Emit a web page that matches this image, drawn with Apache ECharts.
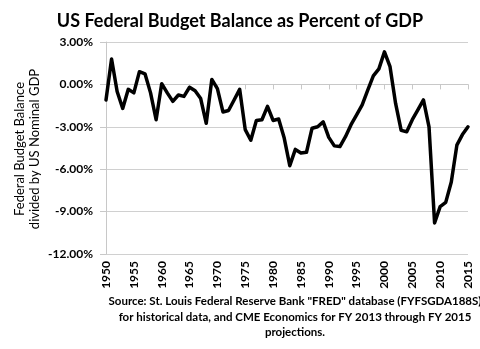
<!DOCTYPE html>
<html>
<head>
<meta charset="utf-8">
<script src="https://cdn.jsdelivr.net/npm/echarts@6/dist/echarts.min.js"></script>
<style>html,body{margin:0;padding:0;background:#fff;}#c{width:480px;height:349px;}</style>
</head>
<body>
<div id="c"></div>
<script>
var years = [];
for (var y = 1950; y <= 2015; y++) years.push(String(y));
var balance = [
  -1.1, 1.8, -0.5, -1.7, -0.35, -0.6, 0.9, 0.75, -0.6, -2.5,
  0.05, -0.6, -1.2, -0.75, -0.85, -0.2, -0.45, -1.0, -2.75, 0.35,
  -0.3, -1.95, -1.85, -1.1, -0.35, -3.2, -3.95, -2.55, -2.5, -1.55,
  -2.55, -2.45, -3.8, -5.75, -4.6, -4.85, -4.8, -3.1, -3.0, -2.65,
  -3.75, -4.35, -4.4, -3.7, -2.85, -2.15, -1.45, -0.4, 0.6, 1.1,
  2.3, 1.25, -1.35, -3.25, -3.35, -2.5, -1.8, -1.1, -3.0, -9.8,
  -8.65, -8.35, -6.9, -4.3, -3.55, -3.0
];
var yTicks = [-12, -9, -6, -3, 0, 3];
var titleText = 'US Federal Budget Balance as Percent of GDP';
var yName = 'Federal Budget Balance\ndivided by US Nominal GDP';
var sourceText = 'Source: St. Louis Federal Reserve Bank "FRED" database (FYFSGDA188S)\nfor historical data, and CME Economics for FY 2013 through FY 2015\nprojections.';

var FONT = 'Lato';
var chart = echarts.init(document.getElementById('c'));
chart.setOption({
  animation: false,
  backgroundColor: '#fff',
  title: {
    text: titleText, left: 'center', top: 7,
    textStyle: {fontFamily: FONT, fontWeight: 'bold', fontSize: 18, color: '#000'}
  },
  grid: {left: 106, right: 12, top: 42, bottom: 95, containLabel: false},
  xAxis: [{
    type: 'category', data: years, boundaryGap: false, position: 'bottom',
    axisLine: {show: false, onZero: false}, axisTick: {show: false},
    axisLabel: {interval: 4, rotate: 90, margin: 7, fontFamily: FONT, fontWeight: 'bold', fontSize: 12, color: '#000'},
    splitLine: {show: false}
  }, {
    type: 'category', data: years, boundaryGap: false, position: 'top',
    axisLine: {show: true, onZero: true, lineStyle: {color: '#c8c8c8', width: 1}},
    axisTick: {show: true, inside: true, interval: 4, length: 5, lineStyle: {color: '#c8c8c8'}},
    axisLabel: {show: false}, splitLine: {show: false}
  }],
  yAxis: {
    type: 'value', min: yTicks[0], max: yTicks[yTicks.length - 1], interval: 3,
    axisLine: {show: true, lineStyle: {color: '#c8c8c8'}},
    axisTick: {show: true, length: 6, lineStyle: {color: '#c8c8c8'}},
    axisLabel: {margin: 13, fontFamily: FONT, fontWeight: 'bold', fontSize: 12, color: '#000',
      formatter: function (v) { return v.toFixed(2) + '%'; }},
    splitLine: {show: true, lineStyle: {color: '#d0d0d0', width: 1}}
  },
  series: [{
    type: 'line', data: balance, xAxisIndex: 0, showSymbol: false, symbol: 'none',
    lineStyle: {color: '#000', width: 3.5, join: 'round', cap: 'round'}
  }],
  graphic: [{
    type: 'text', x: 27, y: 149, rotation: Math.PI / 2,
    style: {text: yName, fontFamily: FONT, fontSize: 13, fill: '#000', textAlign: 'center', textVerticalAlign: 'middle', lineHeight: 15}
  }, {
    type: 'text', x: 295, y: 294,
    style: {text: sourceText, fontFamily: FONT, fontWeight: 'bold', fontSize: 11.5, fill: '#000', textAlign: 'center', lineHeight: 15.5}
  }]
});
</script>
</body>
</html>
